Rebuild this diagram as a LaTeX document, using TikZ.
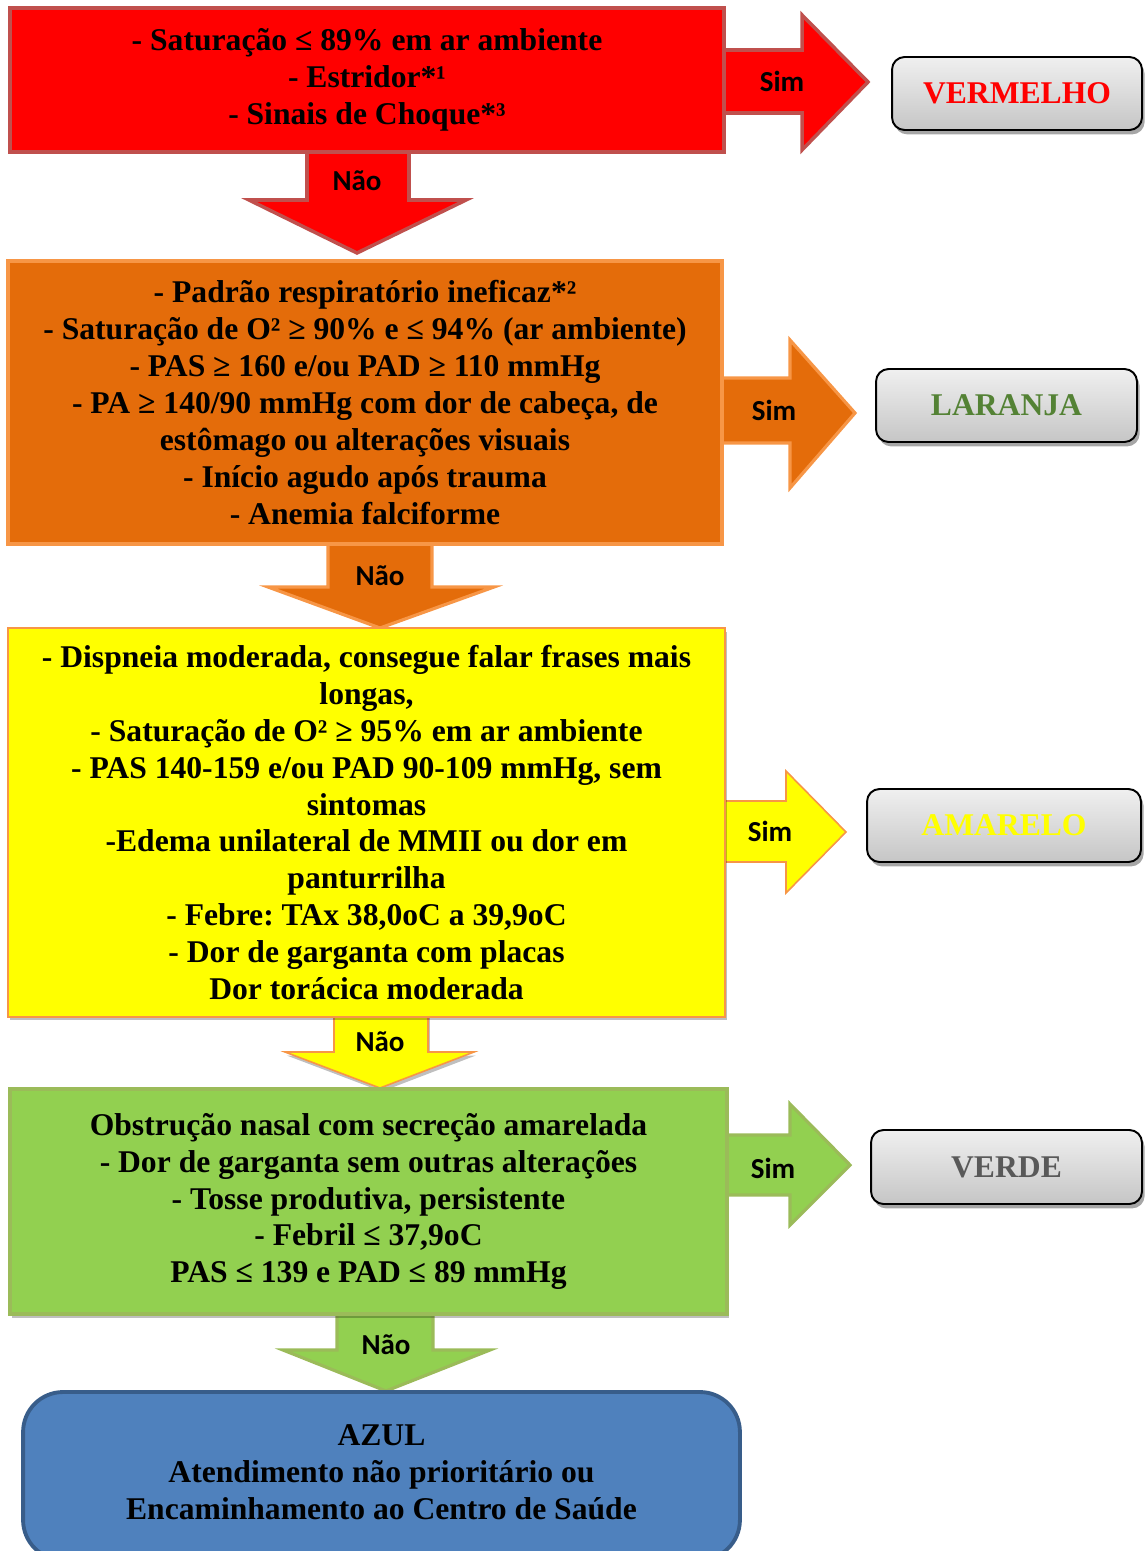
\documentclass[tikz,border=0pt]{standalone}
\usepackage{fontspec}
\setmainfont{Liberation Serif}
\newfontfamily\labelfont{Carlito}
\usetikzlibrary{shadows}
\frenchspacing

\definecolor{redfill}{HTML}{FF0000}
\definecolor{redline}{HTML}{C0504D}
\definecolor{orgfill}{HTML}{E46C0A}
\definecolor{orgline}{HTML}{F79646}
\definecolor{yelfill}{HTML}{FFFF00}
\definecolor{grnfill}{HTML}{92D050}
\definecolor{grnline}{HTML}{9BBB59}
\definecolor{bluefill}{HTML}{4F81BD}
\definecolor{blueline}{HTML}{385D8A}
\definecolor{laranjatxt}{HTML}{548235}
\definecolor{verdetxt}{HTML}{595959}

\tikzset{
  crit/.style={rectangle, align=center, inner sep=0pt,
    font=\fontsize{18}{21}\selectfont\bfseries},
  result/.style={rectangle, draw=black, line width=1.1pt, rounded corners=0.25cm,
    top color=gray!12, bottom color=gray!45, align=center,
    font=\fontsize{18}{21}\selectfont\bfseries,
    drop shadow={shadow xshift=1.5pt, shadow yshift=-2.5pt, opacity=0.35, fill=black}},
  yesno/.style={font=\labelfont\fontsize{16.5}{19}\selectfont\bfseries},
  blockarrow/.style={line join=miter},
  softshadow/.style={drop shadow={shadow xshift=1pt, shadow yshift=-2pt, opacity=0.25, fill=black}}
}

\begin{document}
\begin{tikzpicture}[x=0.02cm, y=-0.02cm]
\useasboundingbox (0,0) rectangle (1144,1551);

% ---------- block arrows (drawn first, boxes cover their roots) ----------
% red level
\draw[blockarrow, fill=redfill, draw=redline, line width=2pt]
  (718,50) -- (802,50) -- (802,15) -- (868,82) -- (802,150) -- (802,113) -- (718,113) -- cycle;
\draw[blockarrow, fill=redfill, draw=redline, line width=2pt]
  (307,146) -- (409,146) -- (409,200) -- (466,200) -- (357,253) -- (249,200) -- (307,200) -- cycle;
% orange level
\draw[blockarrow, fill=orgfill, draw=orgline, line width=1.8pt]
  (716,378) -- (790,378) -- (790,340) -- (855,413) -- (790,488) -- (790,443) -- (716,443) -- cycle;
\draw[blockarrow, fill=orgfill, draw=orgline, line width=1.8pt]
  (328,538) -- (432,538) -- (432,587) -- (494,587) -- (380,628) -- (268,587) -- (328,587) -- cycle;
% yellow level
\draw[blockarrow, fill=yelfill, draw=orgline, line width=0.9pt]
  (718,801) -- (786,801) -- (786,771) -- (846,832) -- (786,893) -- (786,862) -- (718,862) -- cycle;
\draw[blockarrow, fill=yelfill, draw=orgline, line width=0.9pt, softshadow]
  (334,1010) -- (428,1010) -- (428,1052) -- (474,1052) -- (380,1088) -- (285,1052) -- (334,1052) -- cycle;
% green level
\draw[blockarrow, fill=grnfill, draw=grnline, line width=1.8pt]
  (718,1135) -- (790,1135) -- (790,1104) -- (850,1165) -- (790,1225) -- (790,1195) -- (718,1195) -- cycle;
\draw[blockarrow, fill=grnfill, draw=grnline, line width=1.8pt]
  (337,1308) -- (433,1308) -- (433,1350) -- (490,1350) -- (386,1391) -- (283,1350) -- (337,1350) -- cycle;

% ---------- criteria boxes ----------
\node[crit, fill=redfill, draw=redline, line width=2.2pt,
      minimum width=14.28cm, minimum height=2.88cm] (red) at (367,80)
  {- Saturação ≤ 89\% em ar ambiente\\
   - Estridor*¹\\
   - Sinais de Choque*³};

\node[crit, fill=orgfill, draw=orgline, line width=1.8pt,
      minimum width=14.28cm, minimum height=5.66cm] (orange) at (365,402.5)
  {- Padrão respiratório ineficaz*²\\
   - Saturação de O² ≥ 90\% e ≤ 94\% (ar ambiente)\\
   - PAS ≥ 160 e/ou PAD ≥ 110 mmHg\\
   - PA ≥ 140/90 mmHg com dor de cabeça, de\\
   estômago ou alterações visuais\\
   - Início agudo após trauma\\
   - Anemia falciforme};

\node[crit, fill=yelfill, draw=orgline, line width=0.9pt, softshadow,
      minimum width=14.34cm, minimum height=7.78cm] (yellow) at (366.5,822.5)
  {- Dispneia moderada, consegue falar frases mais\\
   longas,\\
   - Saturação de O² ≥ 95\% em ar ambiente\\
   - PAS 140-159 e/ou PAD 90-109 mmHg, sem\\
   sintomas\\
   -Edema unilateral de MMII ou dor em\\
   panturrilha\\
   - Febre: TAx 38,0oC a 39,9oC\\
   - Dor de garganta com placas\\
   Dor torácica moderada};

\node[crit, fill=grnfill, draw=grnline, line width=1.8pt, softshadow,
      minimum width=14.34cm, minimum height=4.5cm] (green) at (368.5,1201.5)
  {Obstrução nasal com secreção amarelada\\
   - Dor de garganta sem outras alterações\\
   - Tosse produtiva, persistente\\
   - Febril ≤ 37,9oC\\
   PAS ≤ 139 e PAD ≤ 89 mmHg};

\node[crit, fill=bluefill, draw=blueline, line width=2.2pt, rounded corners=0.8cm,
      minimum width=14.34cm, minimum height=3.36cm] (blue) at (381.5,1476) {};
\node[crit] (bluetext) at (381.5,1472)
  {AZUL\\
   Atendimento não prioritário ou\\
   Encaminhamento ao Centro de Saúde};

% ---------- outcome boxes ----------
\node[result, text=redfill, minimum width=5cm, minimum height=1.46cm] (vermelho) at (1017,93.5) {VERMELHO};
\node[result, text=laranjatxt, minimum width=5.22cm, minimum height=1.46cm] (laranja) at (1006.5,405.5) {LARANJA};
\node[result, text=yelfill, minimum width=5.48cm, minimum height=1.46cm] (amarelo) at (1004,825.5) {AMARELO};
\node[result, text=verdetxt, minimum width=5.42cm, minimum height=1.48cm] (verde) at (1006.5,1167) {VERDE};

% ---------- arrow labels ----------
\node[yesno] (sim1) at (782,81) {Sim};
\node[yesno] (nao1) at (357,181) {Não};
\node[yesno] (sim2) at (774,410) {Sim};
\node[yesno] (nao2) at (380,576) {Não};
\node[yesno] (sim3) at (770,831) {Sim};
\node[yesno] (nao3) at (380,1042) {Não};
\node[yesno] (sim4) at (773,1168) {Sim};
\node[yesno] (nao4) at (386,1345) {Não};
\end{tikzpicture}
\end{document}
